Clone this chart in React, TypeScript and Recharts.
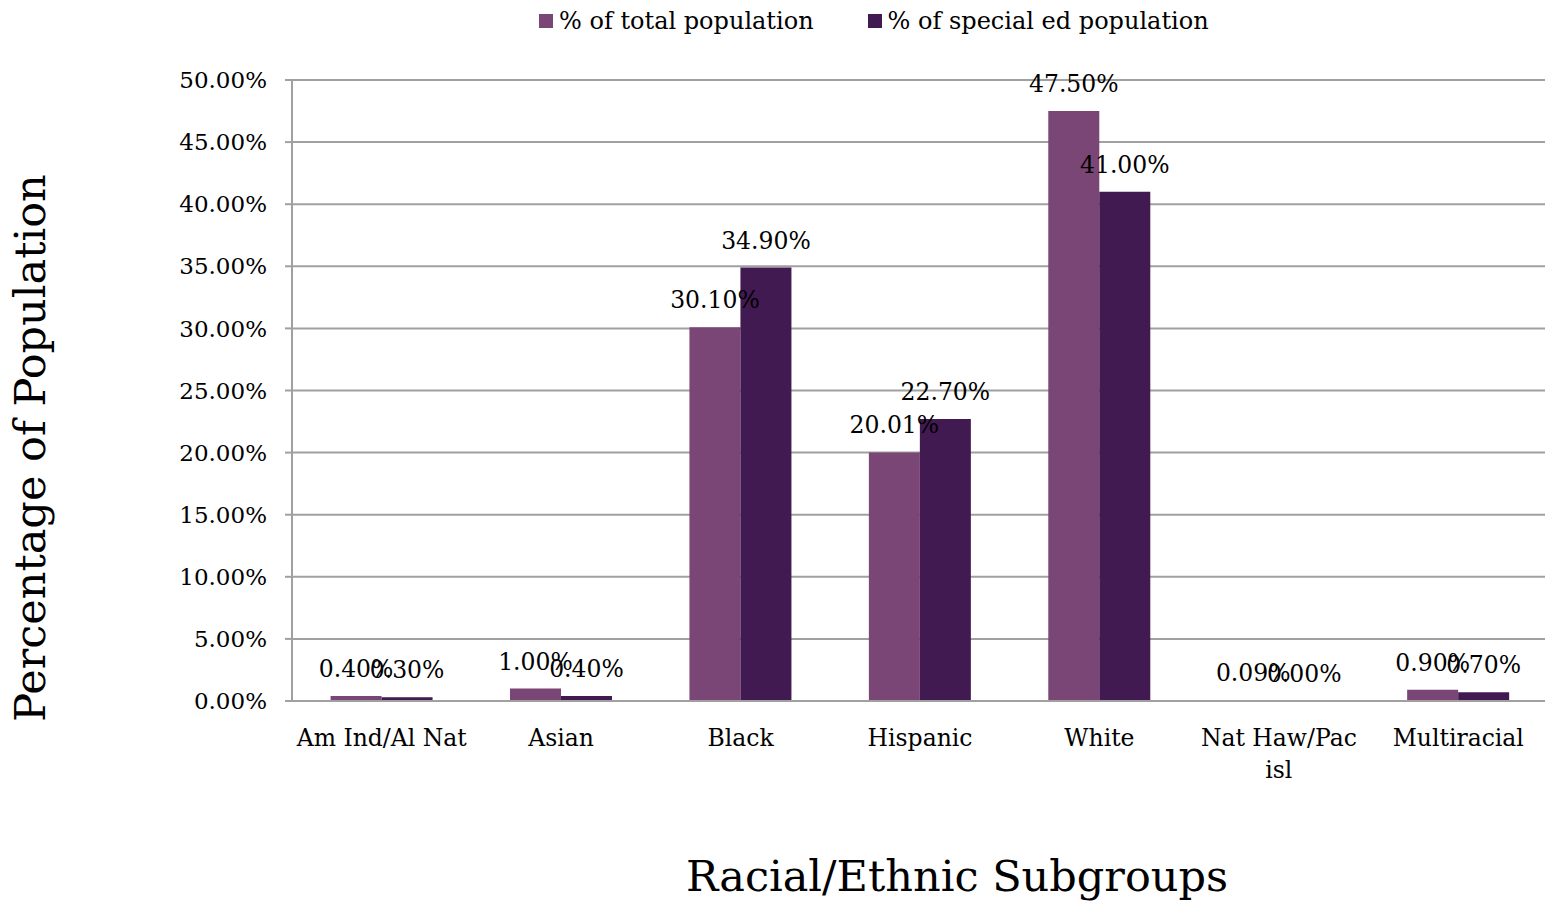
import React from 'react';
import { BarChart, Bar, XAxis, YAxis, CartesianGrid, LabelList, Legend } from 'recharts';

const categories = ['Am Ind/Al Nat', 'Asian', 'Black', 'Hispanic', 'White', 'Nat Haw/Pac isl', 'Multiracial'];
const tickLines = [['Am Ind/Al Nat'], ['Asian'], ['Black'], ['Hispanic'], ['White'], ['Nat Haw/Pac', 'isl'], ['Multiracial']];
const totalPop = [0.4, 1.0, 30.1, 20.01, 47.5, 0.09, 0.9];
const specialEd = [0.3, 0.4, 34.9, 22.7, 41.0, 0.0, 0.7];
const yTicks = [0, 5, 10, 15, 20, 25, 30, 35, 40, 45, 50];
const boundaryTicks = [0, 1, 2, 3, 4, 5, 6, 7];
const seriesNames = ['% of total population', '% of special ed population'];
const colors = ['#7A4675', '#421A52'];

const data = categories.map((c, i) => ({ name: c, idx: i + 0.5, total: totalPop[i], sped: specialEd[i] }));

const FONT = '"DejaVu Serif", serif';
const fmt = (v: any) => Number(v).toFixed(2) + '%';

const XTick = (props: any) => {
  const { x, y, payload } = props;
  const i = categories.indexOf(payload.value);
  const lines = i >= 0 ? tickLines[i] : [String(payload.value)];
  return (
    <text x={x} y={y + 16} textAnchor="middle" fontFamily={FONT} fontSize={23.5} fill="#000">
      {lines.map((l, k) => (
        <tspan key={k} x={x} dy={k === 0 ? '0.9em' : 32}>{l}</tspan>
      ))}
    </text>
  );
};

const LegendContent = () => (
  <div style={{ display: 'flex', fontFamily: FONT, fontSize: 24, color: '#000', alignItems: 'center', height: 24, lineHeight: '24px' }}>
    {seriesNames.map((n, i) => (
      <div key={n} style={{ display: 'flex', alignItems: 'center', marginRight: i === 0 ? 54 : 0 }}>
        <span style={{ display: 'inline-block', width: 14, height: 14, background: colors[i], marginRight: 6 }} />
        <span>{n}</span>
      </div>
    ))}
  </div>
);

const labelStyle = { fontFamily: FONT, fontSize: 23.5, fill: '#000' };

export default function App() {
  return (
    <div style={{ position: 'absolute', left: 0, top: 0, width: 1545, height: 902, background: '#fff', overflow: 'hidden' }}>
      <BarChart
        width={1545}
        height={902}
        data={data}
        margin={{ top: 56, right: -3, bottom: 141, left: 172 }}
        barCategoryGap="21.5%"
        barGap={0}
        style={{ overflow: 'hidden' }}
      >
        <CartesianGrid vertical={false} stroke="#A0A0A0" strokeWidth={2} />
        <XAxis
          dataKey="name"
          xAxisId="cat"
          height={60}
          tick={<XTick />}
          tickLine={false}
          axisLine={{ stroke: '#A0A0A0', strokeWidth: 2 }}
          interval={0}
        />
        <XAxis
          xAxisId="bound"
          type="number"
          dataKey="idx"
          domain={[0, 7]}
          ticks={boundaryTicks}
          tick={false}
          tickSize={7}
          tickLine={{ stroke: '#A0A0A0', strokeWidth: 2 }}
          axisLine={false}
          height={0}
        />
        <YAxis
          width={120}
          domain={[0, 50]}
          ticks={yTicks}
          tickFormatter={fmt}
          tickSize={7}
          tickMargin={18}
          tick={{ fontFamily: FONT, fontSize: 23, fill: '#000' }}
          tickLine={{ stroke: '#A0A0A0', strokeWidth: 2 }}
          axisLine={{ stroke: '#A0A0A0', strokeWidth: 2 }}
        />
        <Legend verticalAlign="top" content={<LegendContent />} wrapperStyle={{ top: 9, left: 539, width: 'auto' }} />
        <Bar dataKey="total" name={seriesNames[0]} xAxisId="cat" fill={colors[0]} isAnimationActive={false} minPointSize={0.01}>
          <LabelList dataKey="total" position="top" offset={19} formatter={fmt} style={labelStyle} />
        </Bar>
        <Bar dataKey="sped" name={seriesNames[1]} xAxisId="cat" fill={colors[1]} isAnimationActive={false} minPointSize={0.01}>
          <LabelList dataKey="sped" position="top" offset={19} formatter={fmt} style={labelStyle} />
        </Bar>
      </BarChart>
      <div style={{ position: 'absolute', left: 30, top: 448, transform: 'translate(-50%, -50%) rotate(-90deg)', whiteSpace: 'nowrap', fontFamily: FONT, fontSize: 43, color: '#000', lineHeight: 1 }}>
        Percentage of Population
      </div>
      <div style={{ position: 'absolute', left: 0, top: 855, width: 1914, textAlign: 'center', fontFamily: FONT, fontSize: 43, color: '#000', lineHeight: 1 }}>
        Racial/Ethnic Subgroups
      </div>
    </div>
  );
}
